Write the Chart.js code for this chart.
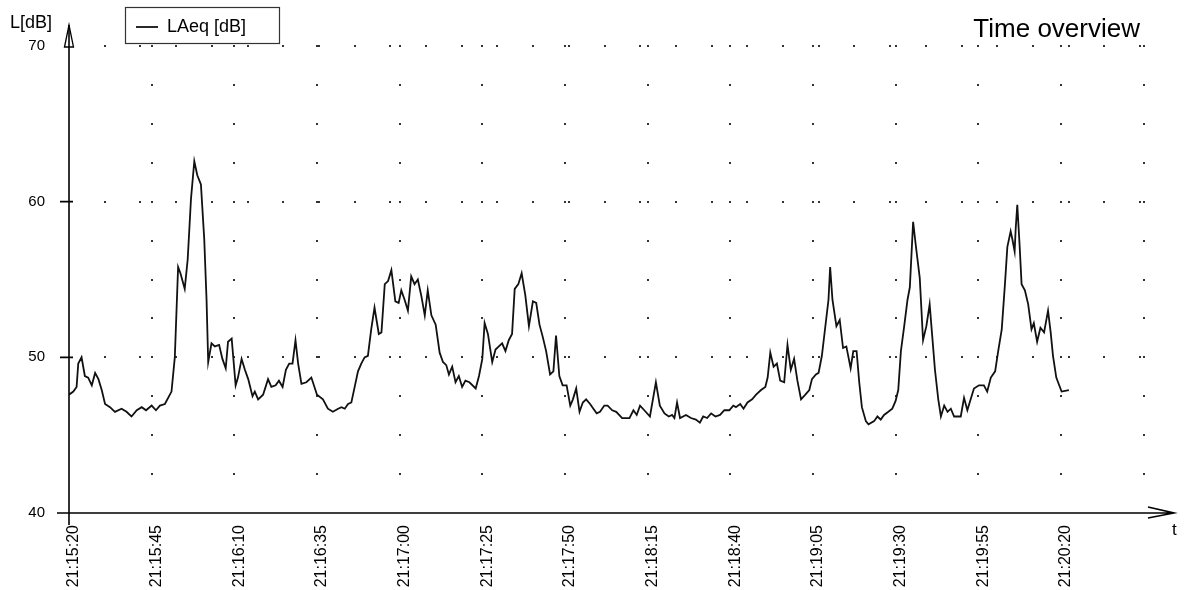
<!DOCTYPE html>
<html>
<head>
<meta charset="utf-8">
<script src="https://cdn.jsdelivr.net/npm/chart.js@4.4.0/dist/chart.umd.min.js"></script>
<style>
  html, body { margin: 0; padding: 0; background: #fff; }
</style>
</head>
<body>
<canvas id="timeChart" width="1190" height="590"></canvas>
<script>
// seconds after 21:15:20
const secs = [
  0.0, 1.3, 2.3, 2.8, 3.8, 4.8, 5.8, 6.9, 7.9, 8.9,
  9.9, 10.9, 12.4, 13.9, 15.9, 17.4, 18.9, 20.5, 22.0, 23.3,
  25.0, 26.3, 27.5, 29.0, 31.0, 32.0, 33.0, 33.7, 35.0, 35.9,
  36.9, 37.9, 38.8, 39.9, 40.9, 41.6, 42.1, 43.1, 44.1, 45.4,
  46.4, 47.4, 48.1, 49.2, 50.4, 51.1, 52.2, 53.2, 54.2, 55.5,
  56.2, 57.2, 58.7, 60.2, 61.2, 62.5, 63.5, 64.6, 65.6, 66.6,
  67.6, 68.5, 69.3, 70.3, 71.8, 73.3, 75.0, 76.8, 78.3, 79.8,
  81.4, 82.4, 83.4, 84.4, 85.4, 86.4, 87.4, 88.4, 89.4, 90.4,
  91.4, 92.4, 93.7, 94.5, 95.5, 96.5, 97.5, 98.7, 99.7, 100.5,
  101.5, 102.5, 103.5, 104.5, 105.5, 106.6, 107.6, 108.5, 109.6, 110.9,
  112.1, 113.1, 114.1, 114.9, 115.9, 116.9, 117.9, 118.9, 119.9, 121.1,
  123.0, 124.0, 125.0, 125.7, 126.7, 128.0, 129.0, 130.0, 131.0, 132.0,
  133.0, 134.0, 134.8, 135.9, 136.9, 138.0, 139.1, 140.3, 141.3, 142.3,
  143.3, 144.3, 145.5, 146.5, 147.3, 148.3, 149.3, 150.5, 151.6, 152.4,
  153.4, 154.4, 155.4, 156.4, 157.6, 158.6, 159.6, 160.6, 161.9, 162.9,
  164.3, 165.5, 167.3, 169.5, 170.7, 171.7, 172.7, 174.0, 175.7, 177.5,
  178.7, 180.1, 181.4, 182.4, 183.1, 183.9, 184.8, 186.6, 188.1, 189.6,
  190.8, 191.8, 193.0, 194.2, 195.5, 196.9, 198.2, 199.7, 200.9, 201.7,
  203.0, 204.0, 205.2, 206.6, 207.8, 209.3, 210.6, 211.3, 212.1, 213.1,
  214.1, 215.1, 216.3, 217.3, 218.3, 219.3, 220.3, 221.4, 222.7, 223.9,
  224.7, 225.9, 226.7, 227.7, 228.7, 229.7, 230.2, 230.9, 232.1, 233.1,
  234.1, 235.1, 236.4, 237.2, 238.2, 239.0, 239.8, 241.0, 241.8, 243.5,
  244.5, 245.5, 246.5, 247.8, 249.0, 250.0, 250.8, 251.6, 252.6, 253.6,
  254.3, 255.3, 256.1, 257.3, 258.3, 259.3, 260.3, 261.1, 261.9, 262.9,
  263.7, 264.7, 265.7, 266.7, 267.7, 269.7, 270.7, 271.7, 272.7, 273.7,
  275.2, 276.7, 277.7, 278.8, 280.1, 281.1, 282.1, 283.1, 283.8, 284.8,
  285.3, 286.0, 286.3, 286.8, 287.5, 288.1, 289.1, 290.1, 291.1, 291.8,
  292.8, 293.8, 294.9, 296.1, 296.9, 297.6, 298.6, 300.2, 302.4
];

const laeq = [
  47.6, 47.8, 48.1, 49.6, 50.0, 48.8, 48.7, 48.2, 49.0, 48.6,
  47.9, 47.0, 46.8, 46.5, 46.7, 46.5, 46.2, 46.6, 46.8, 46.6,
  46.9, 46.6, 46.9, 47.0, 47.8, 50.0, 55.8, 55.4, 54.4, 56.3,
  60.2, 62.6, 61.7, 61.1, 57.6, 53.7, 49.7, 50.9, 50.7, 50.8,
  49.9, 49.3, 51.0, 51.2, 48.2, 48.7, 49.9, 49.2, 48.6, 47.5,
  47.8, 47.3, 47.6, 48.6, 48.1, 48.2, 48.5, 48.1, 49.2, 49.6,
  49.6, 51.1, 49.6, 48.3, 48.4, 48.7, 47.6, 47.3, 46.7, 46.5,
  46.7, 46.8, 46.7, 47.0, 47.1, 48.1, 49.1, 49.6, 50.0, 50.1,
  51.8, 53.2, 51.5, 51.6, 54.7, 54.9, 55.6, 53.6, 53.5, 54.3,
  53.7, 53.0, 55.2, 54.7, 55.0, 53.9, 52.7, 54.3, 52.7, 52.1,
  50.3, 49.7, 49.5, 48.9, 49.4, 48.4, 48.8, 48.1, 48.5, 48.4,
  48.0, 48.8, 49.9, 52.2, 51.5, 49.7, 50.5, 50.7, 50.9, 50.4,
  51.1, 51.5, 54.4, 54.7, 55.4, 54.0, 52.0, 53.6, 53.5, 52.1,
  51.3, 50.4, 48.9, 49.1, 51.4, 48.8, 48.2, 48.2, 46.9, 47.3,
  48.0, 46.5, 47.1, 47.3, 47.0, 46.7, 46.4, 46.5, 46.9, 46.9,
  46.6, 46.5, 46.1, 46.1, 46.6, 46.3, 46.9, 46.6, 46.2, 48.4,
  46.9, 46.4, 46.2, 46.3, 46.1, 47.1, 46.1, 46.3, 46.1, 46.0,
  45.8, 46.2, 46.1, 46.4, 46.2, 46.3, 46.6, 46.6, 46.9, 46.8,
  47.0, 46.7, 47.1, 47.3, 47.6, 47.9, 48.1, 48.7, 50.3, 49.4,
  49.6, 48.5, 48.4, 50.8, 49.2, 49.9, 48.5, 47.3, 47.6, 47.9,
  48.6, 48.9, 49.0, 50.1, 51.9, 53.7, 55.8, 53.7, 52.0, 52.4,
  50.6, 50.7, 49.3, 50.4, 50.4, 48.4, 46.8, 45.9, 45.7, 45.9,
  46.2, 46.0, 46.3, 46.5, 46.7, 47.2, 47.9, 50.4, 52.0, 53.7,
  54.5, 58.7, 57.2, 55.1, 51.1, 52.0, 53.4, 51.3, 49.2, 47.3,
  46.2, 46.9, 46.5, 46.7, 46.2, 46.2, 47.4, 46.6, 47.3, 48.0,
  48.2, 48.2, 47.8, 48.7, 49.1, 50.5, 51.8, 54.8, 57.1, 58.1,
  57.6, 56.8, 58.2, 59.8, 57.2, 54.7, 54.3, 53.4, 51.8, 52.2,
  51.0, 51.9, 51.6, 53.0, 51.6, 50.1, 48.7, 47.8, 47.9
];

const timeTicks = [
  '21:15:20', '21:15:45', '21:16:10', '21:16:35', '21:17:00', '21:17:25', '21:17:50',
  '21:18:15', '21:18:40', '21:19:05', '21:19:30', '21:19:55', '21:20:20'
];

const FONT = "'Liberation Sans', Arial, sans-serif";
const INK = '#000';

// axes with arrows, dotted grid, labels and the legend frame
const frame = {
  id: 'frame',
  afterLayout(chart) {
    // move the legend right, next to the y axis
    chart.legend.left += 123;
    chart.legend.right += 123;
  },
  beforeDatasetsDraw(chart) {
    const { ctx, chartArea: a, scales: { x, y } } = chart;
    ctx.save();
    ctx.fillStyle = '#333';
    for (let t = 25; t <= 325; t += 25) {
      const px = Math.round(x.getPixelForValue(t));
      for (let v = 42.5; v <= 70; v += 2.5) {
        ctx.fillRect(px - 1, Math.round(y.getPixelForValue(v)) - 1, 2, 2);
      }
    }
    [50, 60, 70].forEach(v => {
      const py = Math.round(y.getPixelForValue(v));
      for (let px = a.left + 35.7; px < 1146; px += 35.7) {
        ctx.fillRect(Math.round(px) - 1, py - 1, 2, 2);
      }
    });
    ctx.restore();
  },
  afterDraw(chart) {
    const { ctx, scales: { x, y } } = chart;
    const x0 = x.getPixelForValue(0);
    const y0 = y.getPixelForValue(40);
    const yTop = y.getPixelForValue(70);
    ctx.save();
    ctx.strokeStyle = INK;
    ctx.lineWidth = 1.6;
    ctx.beginPath();
    ctx.moveTo(x0, y0 + 12);
    ctx.lineTo(x0, 25);
    ctx.moveTo(x0 - 12, y0);
    ctx.lineTo(1174, y0);
    // x arrow
    ctx.moveTo(1148, y0 - 6);
    ctx.lineTo(1174, y0);
    ctx.lineTo(1148, y0 + 5);
    // y ticks
    [50, 60].forEach(v => {
      const py = y.getPixelForValue(v);
      ctx.moveTo(x0 - 9, py);
      ctx.lineTo(x0 + 4, py);
    });
    ctx.stroke();
    // y arrow
    ctx.lineWidth = 1.3;
    ctx.beginPath();
    ctx.moveTo(x0 - 4.5, yTop + 1);
    ctx.lineTo(x0, 25);
    ctx.lineTo(x0 + 4.5, yTop + 1);
    ctx.closePath();
    ctx.stroke();

    // legend frame
    const lg = chart.legend;
    ctx.lineWidth = 1.2;
    ctx.strokeStyle = '#333';
    ctx.strokeRect(lg.left + 13 - 10.5, 7.5, 154, 36);

    ctx.fillStyle = INK;
    ctx.textBaseline = 'alphabetic';
    ctx.font = '18px ' + FONT;
    ctx.textAlign = 'left';
    ctx.fillText('L[dB]', 10, 28);
    ctx.font = '17px ' + FONT;
    ctx.fillText('t', 1172, 535);
    ctx.font = '26px ' + FONT;
    ctx.textAlign = 'right';
    ctx.fillText('Time overview', 1140, 37);
    ctx.restore();
  }
};

new Chart(document.getElementById('timeChart'), {
  type: 'line',
  data: {
    datasets: [{
      label: 'LAeq [dB]',
      data: secs.map((s, i) => ({ x: s, y: laeq[i] })),
      borderColor: '#111',
      borderWidth: 1.8,
      pointRadius: 0,
      tension: 0,
      fill: false
    }]
  },
  options: {
    responsive: false,
    animation: false,
    layout: { padding: { top: 5, right: 15, bottom: 0, left: 0 } },
    plugins: {
      legend: {
        position: 'top',
        align: 'start',
        labels: {
          font: { family: FONT, size: 18 },
          color: INK,
          padding: 13,
          usePointStyle: true,
          pointStyle: 'line',
          pointStyleWidth: 22
        }
      },
      tooltip: { enabled: false }
    },
    scales: {
      x: {
        type: 'linear',
        min: 0,
        max: 334.5,
        grid: { display: false, drawTicks: false },
        border: { display: false },
        afterFit(scale) { scale.height = 77; },
        ticks: {
          stepSize: 25,
          includeBounds: false,
          autoSkip: false,
          maxRotation: 90,
          minRotation: 90,
          labelOffset: 5,
          padding: 12,
          color: INK,
          font: { family: FONT, size: 16 },
          callback: (value, index) => timeTicks[index] || ''
        }
      },
      y: {
        min: 40,
        max: 70,
        grid: { display: false, drawTicks: false },
        border: { display: false },
        afterFit(scale) { scale.width = 69; },
        ticks: {
          stepSize: 10,
          padding: 24,
          color: INK,
          font: { family: FONT, size: 15 }
        }
      }
    }
  },
  plugins: [frame]
});
</script>
</body>
</html>
